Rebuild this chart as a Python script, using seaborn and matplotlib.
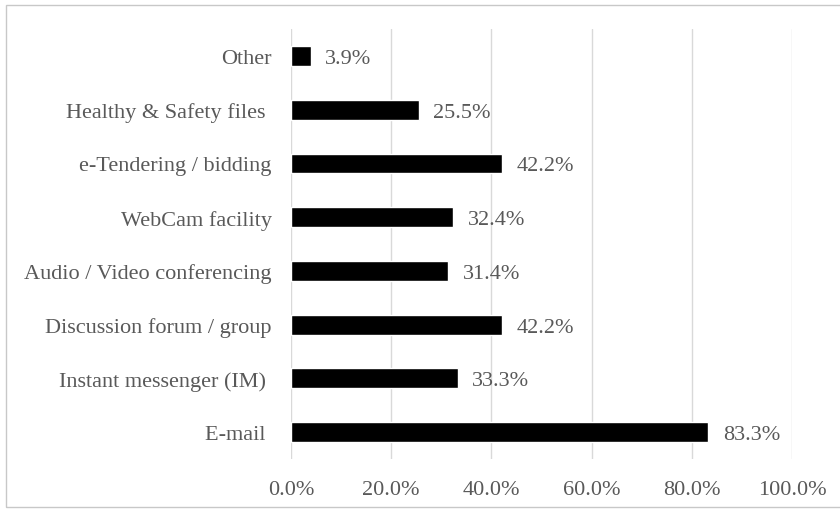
import matplotlib
matplotlib.use("Agg")
import matplotlib.pyplot as plt
from matplotlib.patches import Rectangle
import seaborn as sns
import pandas as pd

categories = [
    "Other",
    "Healthy & Safety files ",
    "e-Tendering / bidding",
    "WebCam facility",
    "Audio / Video conferencing",
    "Discussion forum / group",
    "Instant messenger (IM) ",
    "E-mail ",
]
values = [3.9, 25.5, 42.2, 32.4, 31.4, 42.2, 33.3, 83.3]
x_ticks = [0, 20, 40, 60, 80, 100]
x_tick_labels = ["0.0%", "20.0%", "40.0%", "60.0%", "80.0%", "100.0%"]

df = pd.DataFrame({"category": categories, "value": values})

sns.set_theme(style="white")
plt.rcParams["font.family"] = ["Liberation Serif", "DejaVu Serif"]

text_color = "#595959"
fs = 16

fig = plt.figure(figsize=(8.4, 5.1), dpi=100)
ax = fig.add_axes([0.3464, 0.098, 0.5965, 0.843])

sns.barplot(data=df, x="value", y="category", orient="h", color="black",
            width=0.37, saturation=1, ax=ax, zorder=3)

ax.set_xlim(0, 100)
ax.set_ylim(7.5, -0.5)
ax.set_xticks(x_ticks)
ax.set_xticklabels(x_tick_labels)
ax.set_xlabel("")
ax.set_ylabel("")
ax.grid(axis="x", color="#d9d9d9", linewidth=1, zorder=0)
ax.grid(axis="y", visible=False)
for s in ax.spines.values():
    s.set_visible(False)
ax.tick_params(axis="both", length=0, labelsize=fs, colors=text_color)
ax.tick_params(axis="x", pad=15)
ax.tick_params(axis="y", pad=14)
for lbl in ax.get_yticklabels():
    lbl.set_verticalalignment("center_baseline")

for i, v in enumerate(values):
    ax.text(v + 2.9, i, f"{v:.1f}%", va="center_baseline", ha="left",
            fontsize=fs, color=text_color, zorder=4)

# frame around the chart area (open on the right edge)
fig.patches.append(Rectangle((0.007, 0.003), 1.1, 0.986, transform=fig.transFigure,
                             fill=False, edgecolor="#c8c8c8", linewidth=1))

fig.savefig("out.png", dpi=100, facecolor="white")
